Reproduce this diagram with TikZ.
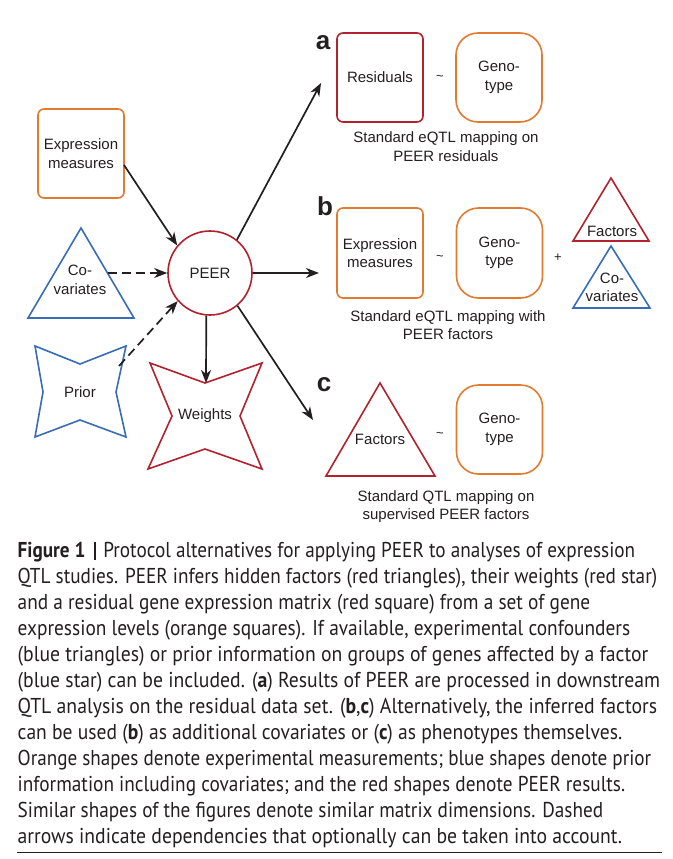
\documentclass[tikz,border=0pt]{standalone}
\usepackage{fontspec}
\usepackage{graphicx}
\usetikzlibrary{arrows.meta}
\newfontfamily\diagfont{Liberation Sans}
\newfontfamily\capfont[FakeStretch=0.88]{PT Sans}
\newcommand\capline[2]{\resizebox{#1pt}{\height}{#2}}
\definecolor{orangeC}{RGB}{226,122,50}
\definecolor{redC}{RGB}{178,34,46}
\definecolor{blueC}{RGB}{56,108,182}
\definecolor{inkC}{RGB}{35,31,32}
\tikzset{
  lab/.style={font=\diagfont\fontsize{15}{18.5}\selectfont, text=inkC, align=center, inner sep=0pt},
  panel/.style={font=\diagfont\bfseries\fontsize{26}{26}\selectfont, text=inkC, inner sep=0pt, anchor=base},
  obox/.style={lab, draw=orangeC, line width=1.6pt, rounded corners=6pt, minimum width=86pt, minimum height=89pt},
  rbox/.style={lab, draw=redC, line width=1.6pt, rounded corners=6pt, minimum width=86pt, minimum height=89pt},
  gbox/.style={lab, draw=orangeC, line width=1.6pt, rounded corners=22pt, minimum width=86pt, minimum height=89pt},
  redshape/.style={draw=redC, line width=1.6pt, line join=miter},
  blueshape/.style={draw=blueC, line width=1.6pt, line join=miter},
  arr/.style={draw=inkC, line width=1.7pt, -{Stealth[length=13pt,width=10pt,inset=4pt]}},
  darr/.style={arr, dash pattern=on 9pt off 5pt},
  captxt/.style={font=\capfont\fontsize{21.5}{26}\selectfont, text=inkC, inner sep=0pt, anchor=base west},
}
\begin{document}
\begin{tikzpicture}[x=1pt,y=-1pt]
\useasboundingbox (0,0) rectangle (672,859);
% left side inputs
\node[obox] (expr) at (81,153.5) {Expression\\measures};
\draw[blueshape] (81,228) -- (134,318) -- (28,318) -- cycle;
\node[lab] (cov) at (80,280) {Co-\\variates};
\coordinate (covR) at (107.5,273);
\draw[blueshape] (35,346) -- (80,364) -- (126,346) -- (116,392) -- (126,437) -- (80,420) -- (35,437) -- (43,392) -- cycle;
\node[lab] (prior) at (80,392) {Prior};
\coordinate (priorR) at (119,366);
% PEER
\node[lab, circle, draw=redC, line width=1.6pt, minimum size=84pt] (peer) at (210,273) {PEER};
% Weights
\draw[redshape] (150,363) -- (205,383) -- (262,363) -- (240,416) -- (262,469) -- (205,449) -- (148,469) -- (172,416) -- cycle;
\node[lab] (weights) at (205,416) {Weights};
\coordinate (wtop) at (206,383);
\coordinate (exprR) at (124,165);
% connectors into PEER
\draw[arr] (exprR) -- (peer.140);
\draw[darr] (covR) -- (peer.west);
\draw[darr] (priorR) -- (peer.221);
\draw[arr] (peer.-95) -- (wtop);
% panel targets
\coordinate (atip) at (321,83);
\coordinate (btip) at (319,273);
\coordinate (ctip) at (313,420);
\draw[arr] (peer.51) -- (atip);
\draw[arr] (peer.east) -- (btip);
\draw[arr] (peer.-50) -- (ctip);
% panel a
\node[panel] (la) at (323,49) {a};
\node[rbox] (resid) at (380,77.5) {Residuals};
\node[lab] (tila) at (440,78) {\fontsize{13}{13}\selectfont\textasciitilde};
\node[gbox] (genoa) at (499,77.5) {Geno-\\type};
\node[lab] (capa) at (446,146.5) {Standard eQTL mapping on\\PEER residuals};
% panel b
\node[panel] (lb) at (325,215) {b};
\node[obox, minimum height=90pt] (exprb) at (380,253) {Expression\\measures};
\node[lab] (tilb) at (440,258) {\fontsize{13}{13}\selectfont\textasciitilde};
\node[gbox, minimum height=90pt] (genob) at (499.5,253) {Geno-\\type};
\node[lab] (plus) at (558,258) {\fontsize{13}{13}\selectfont +};
\draw[redshape] (611,178) -- (649,241) -- (573,241) -- cycle;
\node[lab] (factb) at (612,231) {Factors};
\draw[blueshape] (611,246) -- (650,308) -- (573,308) -- cycle;
\node[lab] (covb) at (612,287.5) {Co-\\variates};
\node[lab] (capb) at (448,325) {Standard eQTL mapping with\\PEER factors};
% panel c
\node[panel] (lc) at (324,391) {c};
\draw[redshape] (380,383) -- (435,476) -- (326,476) -- cycle;
\node[lab] (factc) at (380,439) {Factors};
\node[lab] (tilc) at (440,435) {\fontsize{13}{13}\selectfont\textasciitilde};
\node[gbox] (genoc) at (499.5,429.5) {Geno-\\type};
\node[lab] (capc) at (446,506.5) {Standard QTL mapping on\\supervised PEER factors};
% caption
\node[captxt] (c1) at (17.5,557) {\capline{617.5}{\textbf{Figure 1}\hspace{8pt}\rule[-3pt]{2.6pt}{18.5pt}\hspace{7pt}Protocol alternatives for applying PEER to analyses of expression}};
\node[captxt] (c2) at (17.5,583) {\capline{639.5}{QTL studies. PEER infers hidden factors (red triangles), their weights (red star)}};
\node[captxt] (c3) at (17.5,609) {\capline{572.5}{and a residual gene expression matrix (red square) from a set of gene}};
\node[captxt] (c4) at (17.5,635) {\capline{612.5}{expression levels (orange squares). If available, experimental confounders}};
\node[captxt] (c5) at (17.5,661) {\capline{630.5}{(blue triangles) or prior information on groups of genes affected by a factor}};
\node[captxt] (c6) at (17.5,687) {\capline{642.5}{(blue star) can be included. (\textbf{a}) Results of PEER are processed in downstream}};
\node[captxt] (c7) at (17.5,713) {\capline{639.5}{QTL analysis on the residual data set. (\textbf{b},\textbf{c}) Alternatively, the inferred factors}};
\node[captxt] (c8) at (17.5,739) {\capline{604.5}{can be used (\textbf{b}) as additional covariates or (\textbf{c}) as phenotypes themselves.}};
\node[captxt] (c9) at (17.5,765) {\capline{633.5}{Orange shapes denote experimental measurements; blue shapes denote prior}};
\node[captxt] (c10) at (17.5,791) {\capline{607.5}{information including covariates; and the red shapes denote PEER results.}};
\node[captxt] (c11) at (17.5,817) {\capline{585.5}{Similar shapes of the figures denote similar matrix dimensions. Dashed}};
\node[captxt] (c12) at (17.5,843) {\capline{604.5}{arrows indicate dependencies that optionally can be taken into account.}};
\coordinate (ruleL) at (17,852.5);
\coordinate (ruleR) at (662,852.5);
\draw[inkC, line width=1.3pt] (ruleL) -- (ruleR);
\end{tikzpicture}
\end{document}
